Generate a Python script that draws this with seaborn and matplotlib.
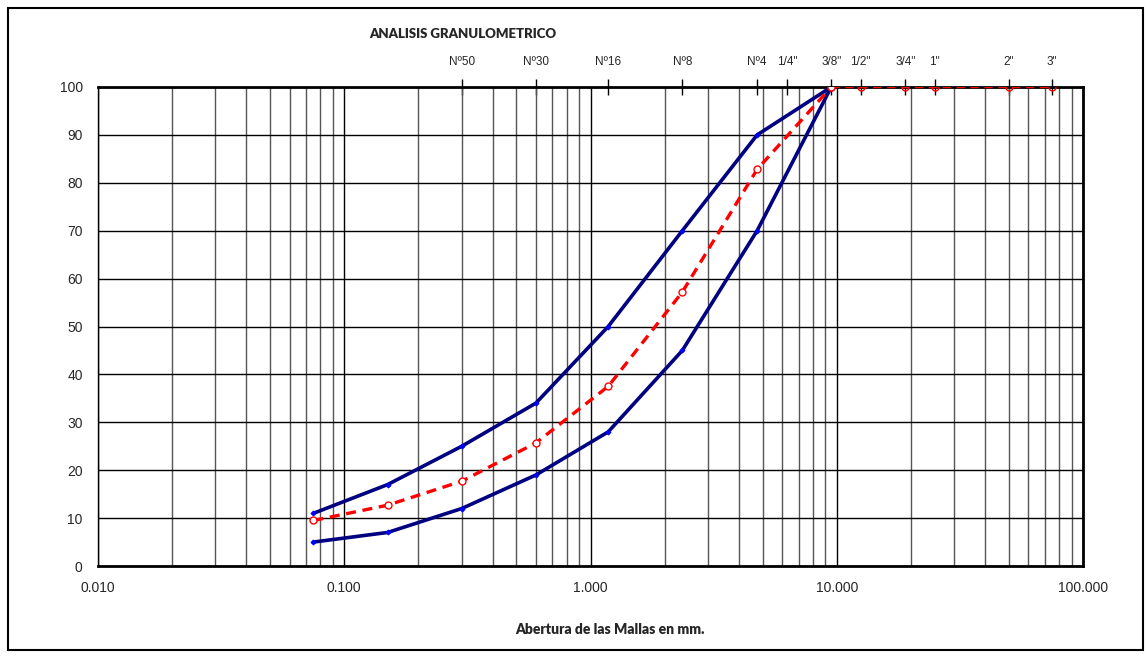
import matplotlib
matplotlib.use("Agg")
import matplotlib.pyplot as plt
import seaborn as sns
import pandas as pd
from matplotlib.patches import Rectangle
from matplotlib.ticker import FixedLocator, NullFormatter

# Sieve openings (mm)
sieve_mm = [0.075, 0.15, 0.3, 0.6, 1.18, 2.36, 4.75, 9.5]
upper_limit = [11, 17, 25, 34, 50, 70, 90, 100]
lower_limit = [5, 7, 12, 19, 28, 45, 70, 100]
passing = [9.5, 12.7, 17.7, 25.7, 37.5, 57.2, 82.8, 100]

# Coarse sieves, all 100 % passing
coarse_mm = [9.5, 12.5, 19.0, 25.0, 50.0, 75.0]
coarse_passing = [100, 100, 100, 100, 100, 100]

# Sieve labels along the top axis
top_mm = [0.3, 0.6, 1.18, 2.36, 4.75, 6.3, 9.5, 12.5, 19.0, 25.0, 50.0, 75.0]
top_labels = ["Nº50", "Nº30", "Nº16", "Nº8", "Nº4", '1/4"', '3/8"', '1/2"',
              '3/4"', '1"', '2"', '3"']

x_ticks = [0.01, 0.1, 1, 10, 100]
x_tick_labels = ["0.010", "0.100", "1.000", "10.000", "100.000"]
y_ticks = list(range(0, 101, 10))

sns.set_style("white")
plt.rcParams["font.family"] = ["Liberation Sans", "DejaVu Sans"]

fig = plt.figure(figsize=(11.45, 6.64), dpi=100)
ax = fig.add_axes([98 / 1145, 1 - 566 / 664, (1083 - 98) / 1145, (566 - 87) / 664])

ax.set_xscale("log")
ax.set_xlim(0.01, 100)
ax.set_ylim(0, 100)

# Grid: decades and sub-decades
ax.xaxis.set_minor_locator(FixedLocator([m * 10.0 ** e for e in range(-2, 2) for m in range(2, 10)]))
ax.xaxis.set_minor_formatter(NullFormatter())
ax.grid(True, which="major", axis="both", color="black", linewidth=1.0)
ax.grid(True, which="minor", axis="x", color="#555555", linewidth=1.0)
ax.set_axisbelow(True)

df_up = pd.DataFrame({"mm": sieve_mm, "pct": upper_limit})
df_lo = pd.DataFrame({"mm": sieve_mm, "pct": lower_limit})
df_pa = pd.DataFrame({"mm": sieve_mm, "pct": passing})
df_co = pd.DataFrame({"mm": coarse_mm, "pct": coarse_passing})

for d in (df_up, df_lo):
    sns.lineplot(data=d, x="mm", y="pct", ax=ax, color="#000080", linewidth=2.6,
                 marker="D", markersize=2.5, markerfacecolor="#0000ff",
                 markeredgecolor="#0000ff", zorder=4)

sns.lineplot(data=df_co, x="mm", y="pct", ax=ax, color="red", linewidth=1.0,
             linestyle=(0, (6, 4)), marker="o", markersize=5,
             markerfacecolor="none", markeredgecolor="red", markeredgewidth=1.0, zorder=5)
sns.lineplot(data=df_pa, x="mm", y="pct", ax=ax, color="red", linewidth=2.4,
             linestyle=(0, (3, 2)), marker="o", markersize=5,
             markerfacecolor="white", markeredgecolor="red", markeredgewidth=1.0, zorder=5)

ax.set_xticks(x_ticks)
ax.set_xticklabels(x_tick_labels)
ax.set_yticks(y_ticks)
ax.tick_params(axis="both", which="major", labelsize=10, length=5, width=1,
               direction="out", color="black", pad=6)
ax.tick_params(axis="x", which="minor", length=0)
ax.set_xlabel("")
ax.set_ylabel("")

for s in ax.spines.values():
    s.set_color("black")
    s.set_linewidth(1.0)
ax.spines["top"].set_linewidth(2.0)
ax.spines["right"].set_linewidth(2.0)
ax.spines["bottom"].set_linewidth(2.0)

# Sieve names on the top axis
top = ax.secondary_xaxis("top")
top.set_xticks(top_mm)
top.set_xticklabels(top_labels)
top.xaxis.set_minor_locator(FixedLocator([]))
top.tick_params(axis="x", which="major", direction="inout", length=12, width=1,
                labelsize=8.5, pad=8, color="black")
top.spines["top"].set_visible(False)

fig.text(463 / 1145, 1 - 34 / 664, "ANALISIS GRANULOMETRICO", ha="center", va="center",
         fontsize=9.5, fontweight="heavy", family=["Lato", "DejaVu Sans"])
fig.text(610 / 1145, 1 - 629 / 664, "Abertura de las Mallas en mm.", ha="center", va="center",
         fontsize=10, fontweight="heavy", family=["Lato", "DejaVu Sans"])

# Outer frame
fig.patches.append(Rectangle((8 / 1145, 1 - 650 / 664), (1143 - 8) / 1145, (650 - 8) / 664,
                             transform=fig.transFigure, fill=False, edgecolor="black",
                             linewidth=1.5))

fig.savefig("out.png", dpi=100)
